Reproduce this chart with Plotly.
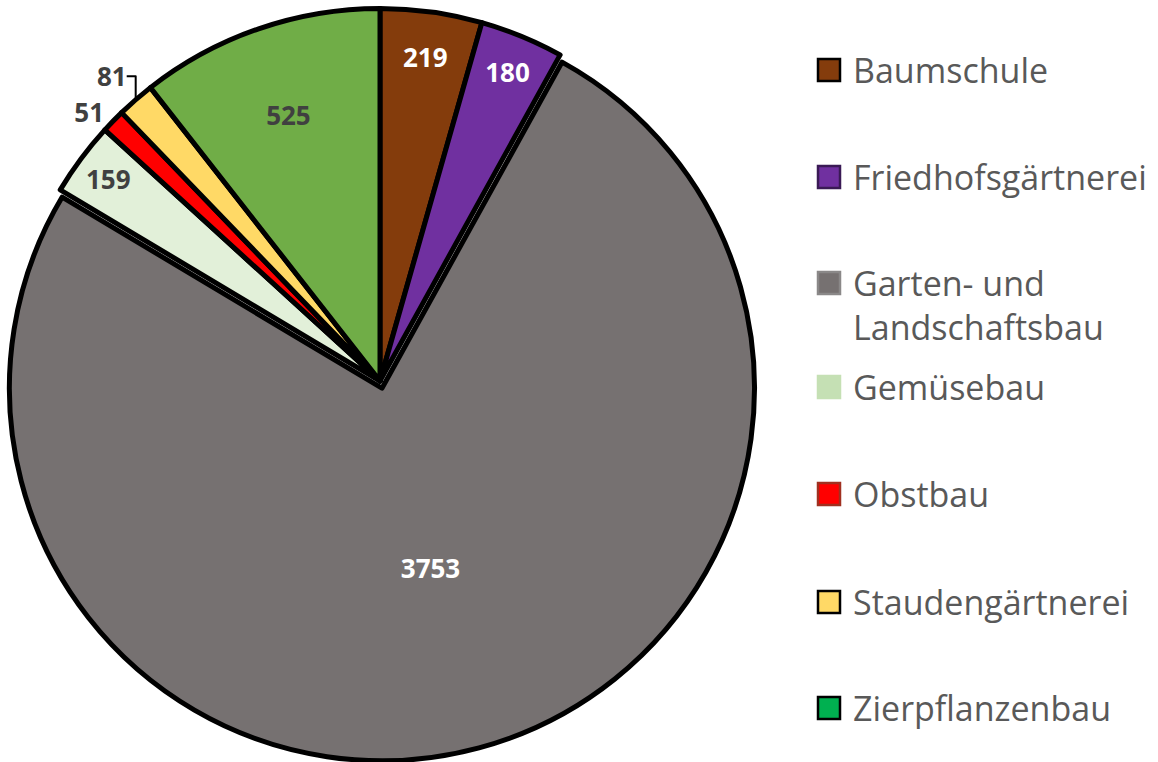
import plotly.graph_objects as go

categories = ["Baumschule", "Friedhofsgärtnerei", "Garten- und Landschaftsbau",
              "Gemüsebau", "Obstbau", "Staudengärtnerei", "Zierpflanzenbau"]
values = [219, 180, 3753, 159, 51, 81, 525]
legend_labels = ["Baumschule", "Friedhofsgärtnerei", "Garten- und<br>Landschaftsbau",
                 "Gemüsebau", "Obstbau", "Staudengärtnerei", "Zierpflanzenbau"]

slice_colors = ["#843C0C", "#7030A0", "#767171", "#E2F0D9", "#FF0000", "#FFD966", "#70AD47"]
swatch_colors = ["#843C0C", "#7030A0", "#767171", "#C5E0B4", "#FF0000", "#FFD966", "#00B050"]
swatch_lines = ["#000000", "#3a1a55", "#8a8888", "#C5E0B4", "#a03020", "#000000", "#000000"]
label_colors = ["white", "white", "white", "#404040", "#404040", "#404040", "#404040"]
text_pos = ["inside", "inside", "inside", "inside", "outside", "outside", "inside"]
pulls = [0, 0, 0.02, 0, 0, 0, 0]

W, H = 1158, 762

fig = go.Figure(go.Pie(
    labels=categories,
    values=values,
    sort=False,
    direction="clockwise",
    rotation=0,
    pull=pulls,
    automargin=False,
    marker=dict(colors=slice_colors, line=dict(color="black", width=5)),
    textinfo="value",
    textposition=text_pos,
    insidetextorientation="horizontal",
    textfont=dict(family="Open Sans", size=26, color=label_colors, weight="bold"),
    domain=dict(x=[0, 760 / W], y=[0, 1]),
    showlegend=False,
    hoverinfo="label+value",
))

# Manual legend built from the category list
item_y = [70, 177, 283, 387, 494, 602, 708]
shapes = []
annotations = []
for i, lab in enumerate(legend_labels):
    y = item_y[i]
    shapes.append(dict(type="rect", xref="paper", yref="paper",
                       x0=818 / W, x1=840 / W,
                       y0=(H - (y + 11)) / H, y1=(H - (y - 11)) / H,
                       fillcolor=swatch_colors[i],
                       line=dict(color=swatch_lines[i], width=2.5)))
    annotations.append(dict(xref="paper", yref="paper", x=851 / W,
                            y=(H - (y - 25)) / H, xanchor="left", yanchor="top",
                            text=lab, showarrow=False, align="left",
                            font=dict(family="Open Sans", size=34, color="#595959")))

fig.update_layout(
    width=W, height=H,
    autosize=False,
    margin=dict(l=0, r=0, t=0, b=0, pad=0, autoexpand=False),
    paper_bgcolor="white",
    plot_bgcolor="white",
    shapes=shapes,
    annotations=annotations,
)

fig.write_html("out.html", config={"displayModeBar": False},
               post_script="document.body.style.margin='0';")
